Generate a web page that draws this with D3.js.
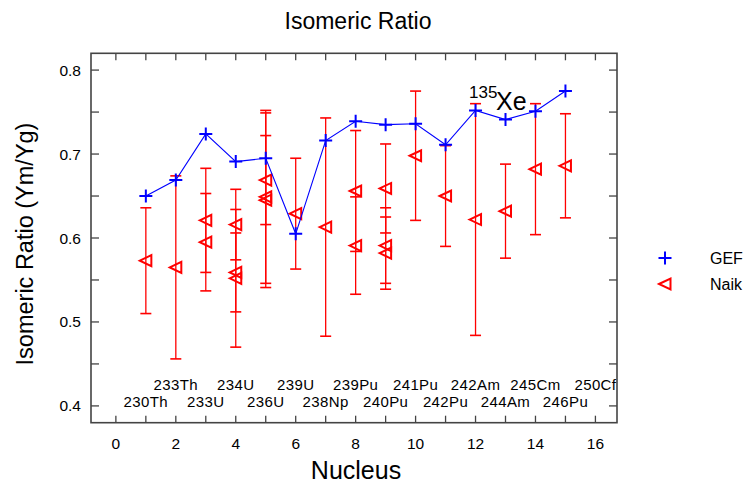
<!DOCTYPE html>
<html><head><meta charset="utf-8">
<script src="https://cdn.jsdelivr.net/npm/d3@7"></script>
<style>body{margin:0;background:#fff}text{font-family:"Liberation Sans",Arial,sans-serif}</style>
</head><body><svg id="c" width="746" height="485"></svg>
<script>
const gefX = [1,2,3,4,5,6,7,8,9,10,11,12,13,14,15];
const gefVal = [0.650,0.669,0.724,0.691,0.695,0.605,0.716,0.739,0.735,0.736,0.711,0.752,0.741,0.751,0.775];
const naikX = [1,2,3,3,4,4,4,5,5,5,6,7,8,8,9,9,9,10,11,12,13,14,15];
const naikVal = [0.573,0.565,0.621,0.595,0.616,0.559,0.552,0.669,0.649,0.645,0.629,0.613,0.656,0.591,0.659,0.591,0.582,0.698,0.650,0.622,0.632,0.682,0.686];
const naikErr = [0.063,0.109,0.062,0.058,0.042,0.047,0.082,0.053,0.103,0.104,0.066,0.130,0.072,0.058,0.053,0.045,0.043,0.077,0.060,0.138,0.056,0.078,0.062];
const nucX = [1,2,3,4,5,6,7,8,9,10,11,12,13,14,15,16];
const nucNames = ["230Th","233Th","233U","234U","236U","239U","238Np","239Pu","240Pu","241Pu","242Pu","242Am","244Am","245Cm","246Pu","250Cf"];
const xTickLabels = [0,2,4,6,8,10,12,14,16];
const yTickLabels = [0.4,0.5,0.6,0.7,0.8];
const seriesNames = ["GEF","Naik"];

const svg = d3.select("#c");
const x = d3.scaleLinear().domain([-0.83,16.72]).range([91,617]);
const y = d3.scaleLinear().domain([0.38,0.82]).range([422.7,53.3]);
const frame = "#444";

svg.append("text").attr("x",358).attr("y",28.5).attr("text-anchor","middle")
  .attr("font-size",23).text("Isomeric Ratio");

const g = svg.append("g");
const xt = d3.range(0,17,1), yt = d3.range(0.4,0.8001,0.05);
const tl = 7;
xt.forEach(v=>{
  g.append("line").attr("x1",x(v)).attr("x2",x(v)).attr("y1",422.7).attr("y2",422.7-tl).attr("stroke",frame).attr("stroke-width",1.3);
  g.append("line").attr("x1",x(v)).attr("x2",x(v)).attr("y1",53.3).attr("y2",53.3+tl).attr("stroke",frame).attr("stroke-width",1.3);
});
yt.forEach(v=>{
  g.append("line").attr("x1",91).attr("x2",91+tl+1).attr("y1",y(v)).attr("y2",y(v)).attr("stroke",frame).attr("stroke-width",1.3);
  g.append("line").attr("x1",617).attr("x2",617-tl-1).attr("y1",y(v)).attr("y2",y(v)).attr("stroke",frame).attr("stroke-width",1.3);
});
svg.append("rect").attr("x",91).attr("y",53.3).attr("width",526).attr("height",369.4)
  .attr("fill","none").attr("stroke",frame).attr("stroke-width",1.6);

xTickLabels.forEach(v=>svg.append("text").attr("x",x(v)).attr("y",449).attr("text-anchor","middle").attr("font-size",15.5).text(v));
yTickLabels.forEach(v=>svg.append("text").attr("x",81).attr("y",y(v)+5.5).attr("text-anchor","end").attr("font-size",15.5).text(v.toFixed(1)));

svg.append("text").attr("x",356).attr("y",479).attr("text-anchor","middle").attr("font-size",25).text("Nucleus");
svg.append("text").attr("transform","translate(33,244) rotate(-90)").attr("text-anchor","middle").attr("font-size",23.5).text("Isomeric Ratio (Ym/Yg)");

nucX.forEach((v,i)=>{
  svg.append("text").attr("x",x(v)).attr("y", v%2===0 ? 389.5 : 406.5).attr("text-anchor","middle")
    .attr("font-size",15).attr("letter-spacing",0.4).text(nucNames[i]);
});

const red = "#ff0000", blue = "#0000ff";
const eb = svg.append("g").attr("stroke",red).attr("stroke-width",1.3);
naikX.forEach((v,i)=>{
  const cx = x(v), lo = y(naikVal[i]-naikErr[i]), hi = y(naikVal[i]+naikErr[i]);
  eb.append("line").attr("x1",cx).attr("x2",cx).attr("y1",lo).attr("y2",hi);
  eb.append("line").attr("x1",cx-5.5).attr("x2",cx+5.5).attr("y1",lo).attr("y2",lo).attr("stroke-width",1.6);
  eb.append("line").attr("x1",cx-5.5).attr("x2",cx+5.5).attr("y1",hi).attr("y2",hi).attr("stroke-width",1.6);
});
const tri = (cx,cy)=>`M${cx-6},${cy} L${cx+5.5},${cy-5.5} L${cx+5.5},${cy+5.5} Z`;
naikX.forEach((v,i)=>{
  svg.append("path").attr("d",tri(x(v),y(naikVal[i]))).attr("fill","none").attr("stroke",red).attr("stroke-width",2);
});

svg.append("path").datum(gefX.map((v,i)=>[v,gefVal[i]]))
  .attr("d",d3.line().x(d=>x(d[0])).y(d=>y(d[1]))).attr("fill","none").attr("stroke",blue).attr("stroke-width",1.1);
const plus = (cx,cy)=>`M${cx-6.5},${cy} H${cx+6.5} M${cx},${cy-6.5} V${cy+6.5}`;
gefX.forEach((v,i)=>{
  svg.append("path").attr("d",plus(x(v),y(gefVal[i]))).attr("stroke",blue).attr("stroke-width",2).attr("fill","none");
});

svg.append("text").attr("x",469).attr("y",98).attr("font-size",17).text("135");
svg.append("text").attr("x",496).attr("y",110).attr("font-size",25).text("Xe");

svg.append("path").attr("d",plus(665,258)).attr("stroke",blue).attr("stroke-width",2).attr("fill","none");
svg.append("text").attr("x",710).attr("y",264).attr("font-size",16).text(seriesNames[0]);
svg.append("path").attr("d",tri(665,284)).attr("stroke",red).attr("stroke-width",2).attr("fill","none");
svg.append("text").attr("x",710).attr("y",290).attr("font-size",16).text(seriesNames[1]);
</script></body></html>
